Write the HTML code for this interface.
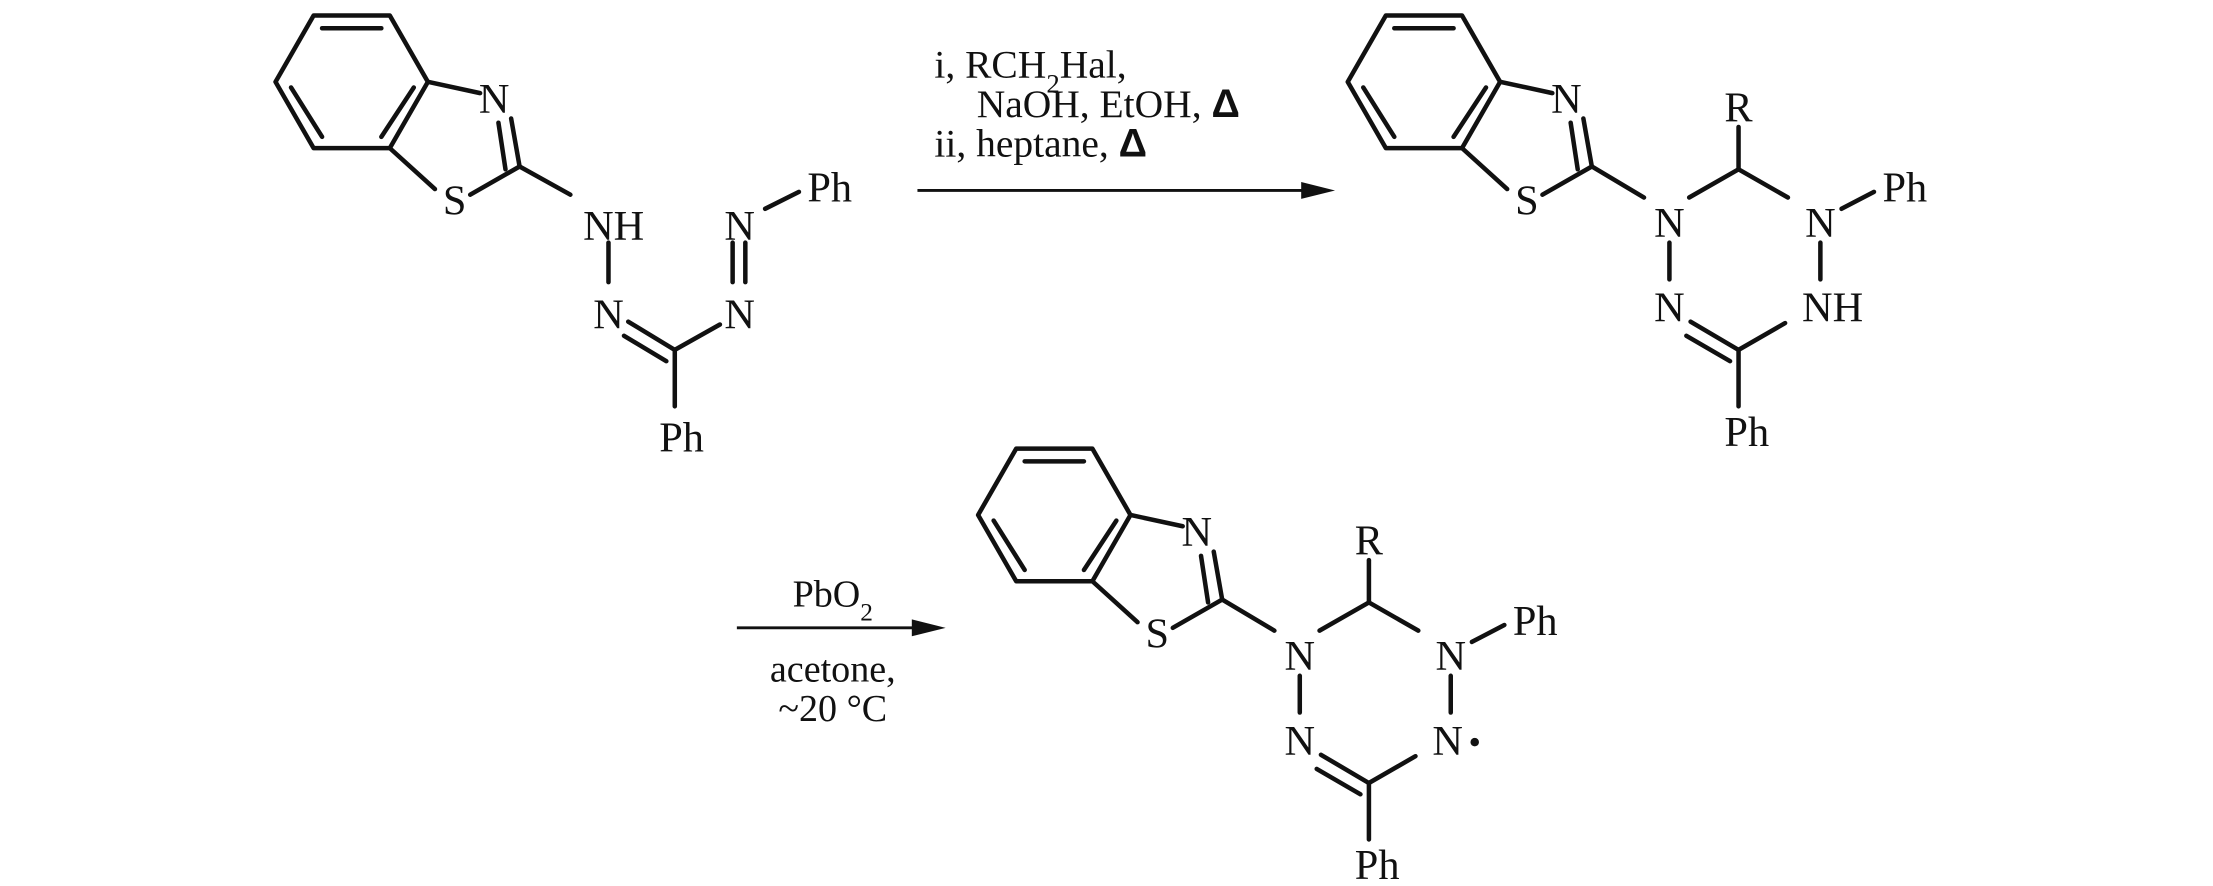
<!DOCTYPE html>
<html><head><meta charset="utf-8"><style>
html,body{margin:0;padding:0;background:#fff;}
svg{display:block;}
text{font-family:"Liberation Serif",serif;font-size:30px;fill:#111;}
</style></head><body>
<svg width="2213" height="886" viewBox="0 0 1568 628" xmlns="http://www.w3.org/2000/svg">
<defs>
<g id="bt" stroke="#111" stroke-width="3.2" fill="none" stroke-linecap="round">
  <polygon points="222,11 276,11 303,58 276,105 222,105 195,58" stroke-linejoin="round"/>
  <line x1="228" y1="20" x2="270" y2="20"/>
  <line x1="206" y1="62" x2="228" y2="97"/>
  <line x1="293" y1="62" x2="270" y2="97"/>
  <line x1="303" y1="58" x2="340" y2="66"/>
  <line x1="276" y1="105" x2="308" y2="134"/>
  <line x1="333" y1="138" x2="368" y2="118"/>
  <line x1="368" y1="118" x2="362" y2="84"/>
  <line x1="358" y1="120" x2="353" y2="87"/>
</g>
</defs>

<!-- Compound 1 -->
<use href="#bt"/>
<g stroke="#111" stroke-width="3.2" fill="none" stroke-linecap="round">
  <line x1="368" y1="118" x2="404" y2="138"/>
  <line x1="431" y1="172" x2="431" y2="200"/>
  <line x1="445" y1="228" x2="478" y2="248"/>
  <line x1="442" y1="238" x2="472" y2="256"/>
  <line x1="478" y1="248" x2="510" y2="230"/>
  <line x1="478" y1="248" x2="478" y2="288"/>
  <line x1="519" y1="172" x2="519" y2="200"/>
  <line x1="528" y1="172" x2="528" y2="200"/>
  <line x1="542" y1="148" x2="566" y2="136"/>
</g>
<text x="350" y="80" text-anchor="middle">N</text>
<text x="322" y="152" text-anchor="middle">S</text>
<text x="413" y="170">NH</text>
<text x="431" y="233" text-anchor="middle">N</text>
<text x="524" y="233" text-anchor="middle">N</text>
<text x="524" y="170" text-anchor="middle">N</text>
<text x="572" y="143">Ph</text>
<text x="467" y="320">Ph</text>

<!-- Arrow 1 -->
<line x1="650" y1="135" x2="930" y2="135" stroke="#111" stroke-width="2"/>
<polygon points="946,135 922,129 922,141" fill="#111"/>
<text x="662" y="55" style="font-size:28px">i, RCH<tspan baseline-shift="sub" style="font-size:19px">2</tspan>Hal,</text>
<text x="692" y="83" style="font-size:28px">NaOH, EtOH, <tspan font-weight="bold" font-family="Liberation Sans">Δ</tspan></text>
<text x="662" y="111" style="font-size:28px">ii, heptane, <tspan font-weight="bold" font-family="Liberation Sans">Δ</tspan></text>

<!-- Compound 2 -->
<g transform="translate(760,0)">
<use href="#bt"/>
<g stroke="#111" stroke-width="3.2" fill="none" stroke-linecap="round">
  <line x1="368" y1="118" x2="405" y2="140"/>
  <line x1="437" y1="140" x2="472" y2="120"/>
  <line x1="472" y1="120" x2="472" y2="90"/>
  <line x1="472" y1="120" x2="507" y2="140"/>
  <line x1="423" y1="172" x2="423" y2="198"/>
  <line x1="530" y1="172" x2="530" y2="198"/>
  <line x1="438" y1="228" x2="472" y2="248"/>
  <line x1="435" y1="238" x2="466" y2="256"/>
  <line x1="472" y1="248" x2="505" y2="229"/>
  <line x1="472" y1="248" x2="472" y2="288"/>
  <line x1="545" y1="148" x2="568" y2="136"/>
</g>
<text x="350" y="80" text-anchor="middle">N</text>
<text x="322" y="152" text-anchor="middle">S</text>
<text x="423" y="168" text-anchor="middle">N</text>
<text x="472" y="86" text-anchor="middle">R</text>
<text x="530" y="168" text-anchor="middle">N</text>
<text x="574" y="143">Ph</text>
<text x="423" y="228" text-anchor="middle">N</text>
<text x="517" y="228">NH</text>
<text x="462" y="316">Ph</text>
</g>

<!-- Arrow 2 -->
<line x1="522" y1="445" x2="655" y2="445" stroke="#111" stroke-width="2"/>
<polygon points="670,445 646,439 646,451" fill="#111"/>
<text x="590" y="430" text-anchor="middle" style="font-size:27px">PbO<tspan baseline-shift="sub" style="font-size:18px">2</tspan></text>
<text x="590" y="483" text-anchor="middle" style="font-size:27px">acetone,</text>
<text x="590" y="511" text-anchor="middle" style="font-size:27px">~20 °C</text>

<!-- Compound 3 -->
<g transform="translate(498,307)">
<use href="#bt"/>
<g stroke="#111" stroke-width="3.2" fill="none" stroke-linecap="round">
  <line x1="368" y1="118" x2="405" y2="140"/>
  <line x1="437" y1="140" x2="472" y2="120"/>
  <line x1="472" y1="120" x2="472" y2="90"/>
  <line x1="472" y1="120" x2="507" y2="140"/>
  <line x1="423" y1="172" x2="423" y2="198"/>
  <line x1="530" y1="172" x2="530" y2="198"/>
  <line x1="438" y1="228" x2="472" y2="248"/>
  <line x1="435" y1="238" x2="466" y2="256"/>
  <line x1="472" y1="248" x2="505" y2="229"/>
  <line x1="472" y1="248" x2="472" y2="288"/>
  <line x1="545" y1="148" x2="568" y2="136"/>
</g>
<text x="350" y="80" text-anchor="middle">N</text>
<text x="322" y="152" text-anchor="middle">S</text>
<text x="423" y="168" text-anchor="middle">N</text>
<text x="472" y="86" text-anchor="middle">R</text>
<text x="530" y="168" text-anchor="middle">N</text>
<text x="574" y="143">Ph</text>
<text x="423" y="228" text-anchor="middle">N</text>
<text x="517" y="228">N</text>
<circle cx="547" cy="219" r="3" fill="#111"/>
<text x="462" y="316">Ph</text>
</g>
</svg>
</body></html>
